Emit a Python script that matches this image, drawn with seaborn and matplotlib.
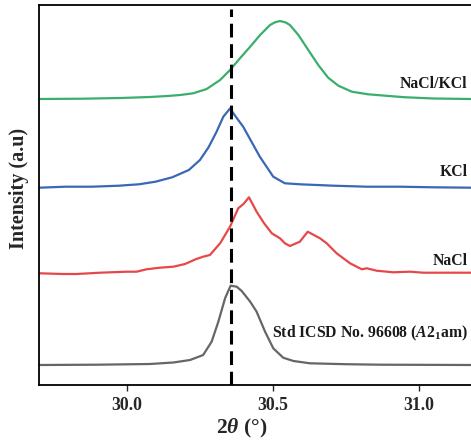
import matplotlib
matplotlib.use("Agg")
import matplotlib.pyplot as plt
import seaborn as sns
import pandas as pd

# ---------------- data ----------------
std_x = [29.700, 29.900, 30.080, 30.160, 30.217, 30.262, 30.291, 30.314, 30.337,
         30.356, 30.377, 30.394, 30.423, 30.445, 30.474, 30.502, 30.536, 30.571,
         30.628, 30.750, 30.868, 31.179]
std_y = [20.0, 20.3, 21.0, 22.5, 25.0, 30.0, 43.3, 63.3, 86.7,
         99.3, 98.3, 94.0, 83.3, 73.3, 53.3, 36.7, 27.3, 24.0,
         21.7, 20.8, 20.3, 20.0]

nacl_x = [29.703, 29.780, 29.829, 29.909, 30.000, 30.034, 30.068, 30.114, 30.160,
          30.200, 30.236, 30.262, 30.285, 30.320, 30.354, 30.382, 30.400, 30.419,
          30.445, 30.470, 30.497, 30.525, 30.542, 30.559, 30.593, 30.620, 30.662,
          30.685, 30.719, 30.765, 30.805, 30.822, 30.856, 30.913, 30.970, 31.016,
          31.108, 31.179]
nacl_y = [111.7, 111.0, 111.0, 112.3, 113.3, 113.3, 115.7, 117.3, 118.3,
          121.0, 125.7, 128.3, 130.0, 141.7, 158.3, 176.7, 181.0, 187.7,
          173.3, 162.0, 151.7, 146.7, 141.7, 139.0, 143.3, 153.3, 146.7,
          141.7, 131.7, 121.7, 115.7, 116.7, 114.3, 112.7, 113.3, 112.3,
          112.3, 112.3]

kcl_x = [29.700, 29.791, 29.882, 29.974, 30.042, 30.099, 30.156, 30.213, 30.251,
         30.280, 30.308, 30.331, 30.354, 30.377, 30.399, 30.456, 30.502, 30.542,
         30.594, 30.651, 30.708, 30.822, 30.936, 31.050, 31.179]
kcl_y = [197.3, 198.3, 198.3, 199.3, 200.7, 203.3, 207.7, 215.0, 225.0,
         237.5, 253.3, 268.3, 276.5, 267.0, 258.3, 228.3, 208.3, 201.7,
         200.7, 200.0, 199.3, 198.3, 198.3, 197.7, 197.3]

mix_x = [29.700, 29.850, 29.980, 30.080, 30.140, 30.183, 30.228, 30.274, 30.320,
         30.354, 30.388, 30.423, 30.457, 30.491, 30.508, 30.525, 30.545, 30.559,
         30.588, 30.622, 30.656, 30.690, 30.725, 30.771, 30.827, 30.885, 30.950,
         31.050, 31.179]
mix_y = [286.0, 286.3, 287.0, 288.0, 289.0, 290.0, 291.7, 296.0, 305.0,
         315.0, 326.7, 338.3, 350.0, 360.0, 362.7, 364.0, 362.5, 360.0,
         350.0, 335.0, 320.0, 307.3, 299.3, 293.3, 290.7, 289.3, 287.8,
         286.5, 286.0]

series_names = ["Std", "NaCl", "KCl", "NaCl/KCl"]
series_colors = ["#666666", "#e8474a", "#3a68b4", "#3aae6c"]
label_texts = ["Std ICSD No. 96608 ($\\mathit{A}$2$_\\mathregular{1}$am)", "NaCl", "KCl", "NaCl/KCl"]
label_y = [52, 124, 213, 301]

ref_line_x = 30.356
x_ticks = [30.0, 30.5, 31.0]
x_tick_labels = ["30.0", "30.5", "31.0"]

# ---------------- plotting ----------------
sns.set_style("white")
plt.rcParams["font.family"] = ["Liberation Serif", "DejaVu Serif"]
plt.rcParams["font.weight"] = "bold"
plt.rcParams["mathtext.fontset"] = "custom"
plt.rcParams["mathtext.rm"] = "Liberation Serif:bold"
plt.rcParams["mathtext.it"] = "Liberation Serif:italic:bold"
plt.rcParams["mathtext.bf"] = "Liberation Serif:bold"

fig = plt.figure(figsize=(4.71, 4.41), dpi=100)
ax = fig.add_axes([39 / 471, 1 - 385 / 441, 1 - 39 / 471, (385 - 5) / 441])

frames = []
for name, xs, ys in [("Std", std_x, std_y), ("NaCl", nacl_x, nacl_y),
                     ("KCl", kcl_x, kcl_y), ("NaCl/KCl", mix_x, mix_y)]:
    frames.append(pd.DataFrame({"two_theta": xs, "intensity": ys, "sample": name}))
df = pd.concat(frames, ignore_index=True)

for name, col in zip(series_names, series_colors):
    sub = df[df["sample"] == name]
    sns.lineplot(data=sub, x="two_theta", y="intensity", color=col, lw=1.6,
                 sort=False, estimator=None, ax=ax)

ax.axvline(ref_line_x, color="black", lw=2.2, linestyle=(0, (4.5, 2.2)), ymax=0.99)

for txt, yv in zip(label_texts, label_y):
    ax.text(31.168, yv, txt, ha="right", va="center", fontsize=11.3,
            fontweight="bold", color="#1a1a1a")

ax.set_xlim(29.70, 31.179)
ax.set_ylim(0, 380)
ax.set_xticks(x_ticks)
ax.set_xticklabels(x_tick_labels, fontsize=12.8, fontweight="bold")
ax.set_yticks([])
ax.tick_params(axis="x", direction="out", length=4, width=1.0, bottom=True, pad=5)
for side in ["left", "top", "bottom"]:
    ax.spines[side].set_visible(True)
    ax.spines[side].set_color("black")
    ax.spines[side].set_linewidth(1.3)
ax.spines["right"].set_visible(False)

ax.set_xlabel("2$\\mathit{\\theta}$ (°)", fontsize=15.5, fontweight="bold")
ax.xaxis.set_label_coords(0.469, -0.085)
ax.set_ylabel("Intensity (a.u)", fontsize=14.5, fontweight="bold")
ax.yaxis.set_label_coords(-0.022, 0.516)

fig.savefig("out.png", dpi=100)
